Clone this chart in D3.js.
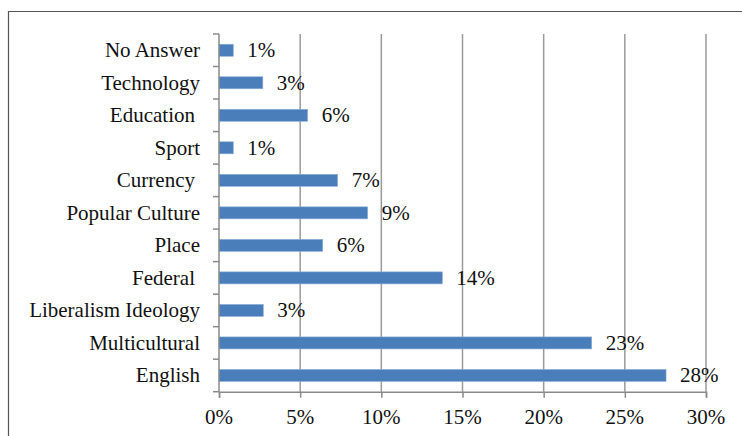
<!DOCTYPE html>
<html>
<head>
<meta charset="utf-8">
<script src="https://cdn.jsdelivr.net/npm/d3@7"></script>
</head>
<body style="margin:0; background:#fff">
<script>
// chart size
var w = 742;
var h = 436;

// plot area
var x0 = 219, x1 = 706;
var yTop = 34, yBot = 391.7;
var fontFam = "'Liberation Serif', monospace";
var fontSize = 21;

// data (top to bottom)
var categories = ["No Answer", "Technology", "Education ", "Sport", "Currency ", "Popular Culture",
                  "Place", "Federal ", "Liberalism Ideology", "Multicultural", "English"];
var values = [0.88, 2.7, 5.46, 0.88, 7.31, 9.16, 6.39, 13.76, 2.73, 22.96, 27.54];
var valueLabels = ["1%", "3%", "6%", "1%", "7%", "9%", "6%", "14%", "3%", "23%", "28%"];
var xTicks = [0, 5, 10, 15, 20, 25, 30];

var data = categories.map(function(c, i) {
  return { cat: c, val: values[i], lab: valueLabels[i] };
});

var svg = d3.select("body").append("svg")
  .attr("width", w)
  .attr("height", h);

// outer frame (only top and left edges are visible)
svg.append("path")
  .attr("d", "M8.5," + h + " V11.5 H" + w)
  .attr("fill", "none")
  .attr("stroke", "#555")
  .attr("stroke-width", 1.2);

var x = d3.scaleLinear().domain([0, 30]).range([x0, x1]);
var y = d3.scaleBand().domain(categories).range([yTop, yBot])
  .paddingInner(0.63).paddingOuter(0.315);

// gridlines
svg.append("g").selectAll("line")
  .data(xTicks.slice(1))
  .join("line")
  .attr("x1", function(d) { return x(d); })
  .attr("x2", function(d) { return x(d); })
  .attr("y1", yTop)
  .attr("y2", yBot)
  .attr("stroke", "#9a9a9a")
  .attr("stroke-width", 1.5);

// bars
svg.append("g").selectAll("rect")
  .data(data)
  .join("rect")
  .attr("x", x(0))
  .attr("y", function(d) { return y(d.cat); })
  .attr("width", function(d) { return x(d.val) - x(0); })
  .attr("height", y.bandwidth())
  .attr("fill", "#4a7ebb")
  .attr("stroke", "#8fb0d8")
  .attr("stroke-width", 0.6);

// value labels
svg.append("g").selectAll("text")
  .data(data)
  .join("text")
  .attr("x", function(d) { return x(d.val) + 14; })
  .attr("y", function(d) { return y(d.cat) + y.bandwidth() / 2 + 7; })
  .attr("font-family", fontFam)
  .attr("font-size", fontSize)
  .attr("fill", "#111")
  .text(function(d) { return d.lab; });

// category labels (the original pads a few with a trailing space)
svg.append("g").selectAll("text")
  .data(data)
  .join("text")
  .attr("x", function(d) { return d.cat.slice(-1) === " " ? 195 : 200; })
  .attr("y", function(d) { return y(d.cat) + y.bandwidth() / 2 + 7; })
  .attr("text-anchor", "end")
  .attr("font-family", fontFam)
  .attr("font-size", fontSize)
  .attr("fill", "#111")
  .text(function(d) { return d.cat.trim(); });

// left axis line + ticks at category boundaries
var step = y.step();
var bounds = d3.range(categories.length + 1).map(function(i) { return yTop + i * step; });
svg.append("line")
  .attr("x1", x0).attr("x2", x0)
  .attr("y1", yTop).attr("y2", yBot)
  .attr("stroke", "#8a8a8a").attr("stroke-width", 1.5);
svg.append("g").selectAll("line")
  .data(bounds)
  .join("line")
  .attr("x1", x0 - 6).attr("x2", x0)
  .attr("y1", function(d) { return d; })
  .attr("y2", function(d) { return d; })
  .attr("stroke", "#8a8a8a").attr("stroke-width", 1.5);

// bottom axis, tick labels drawn by hand so the font sticks
var gx = svg.append("g")
  .attr("transform", "translate(0," + yBot + ")")
  .call(d3.axisBottom(x).tickValues(xTicks).tickSize(6).tickFormat(""));
gx.select(".domain").attr("stroke", "#8a8a8a").attr("stroke-width", 1.5);
gx.selectAll(".tick line").attr("stroke", "#8a8a8a").attr("stroke-width", 1.5);

svg.append("g").selectAll("text")
  .data(xTicks)
  .join("text")
  .attr("x", function(d) { return x(d); })
  .attr("y", yBot + 32)
  .attr("text-anchor", "middle")
  .attr("font-family", fontFam)
  .attr("font-size", fontSize)
  .attr("fill", "#111")
  .text(function(d) { return d + "%"; });
</script>
</body>
</html>
